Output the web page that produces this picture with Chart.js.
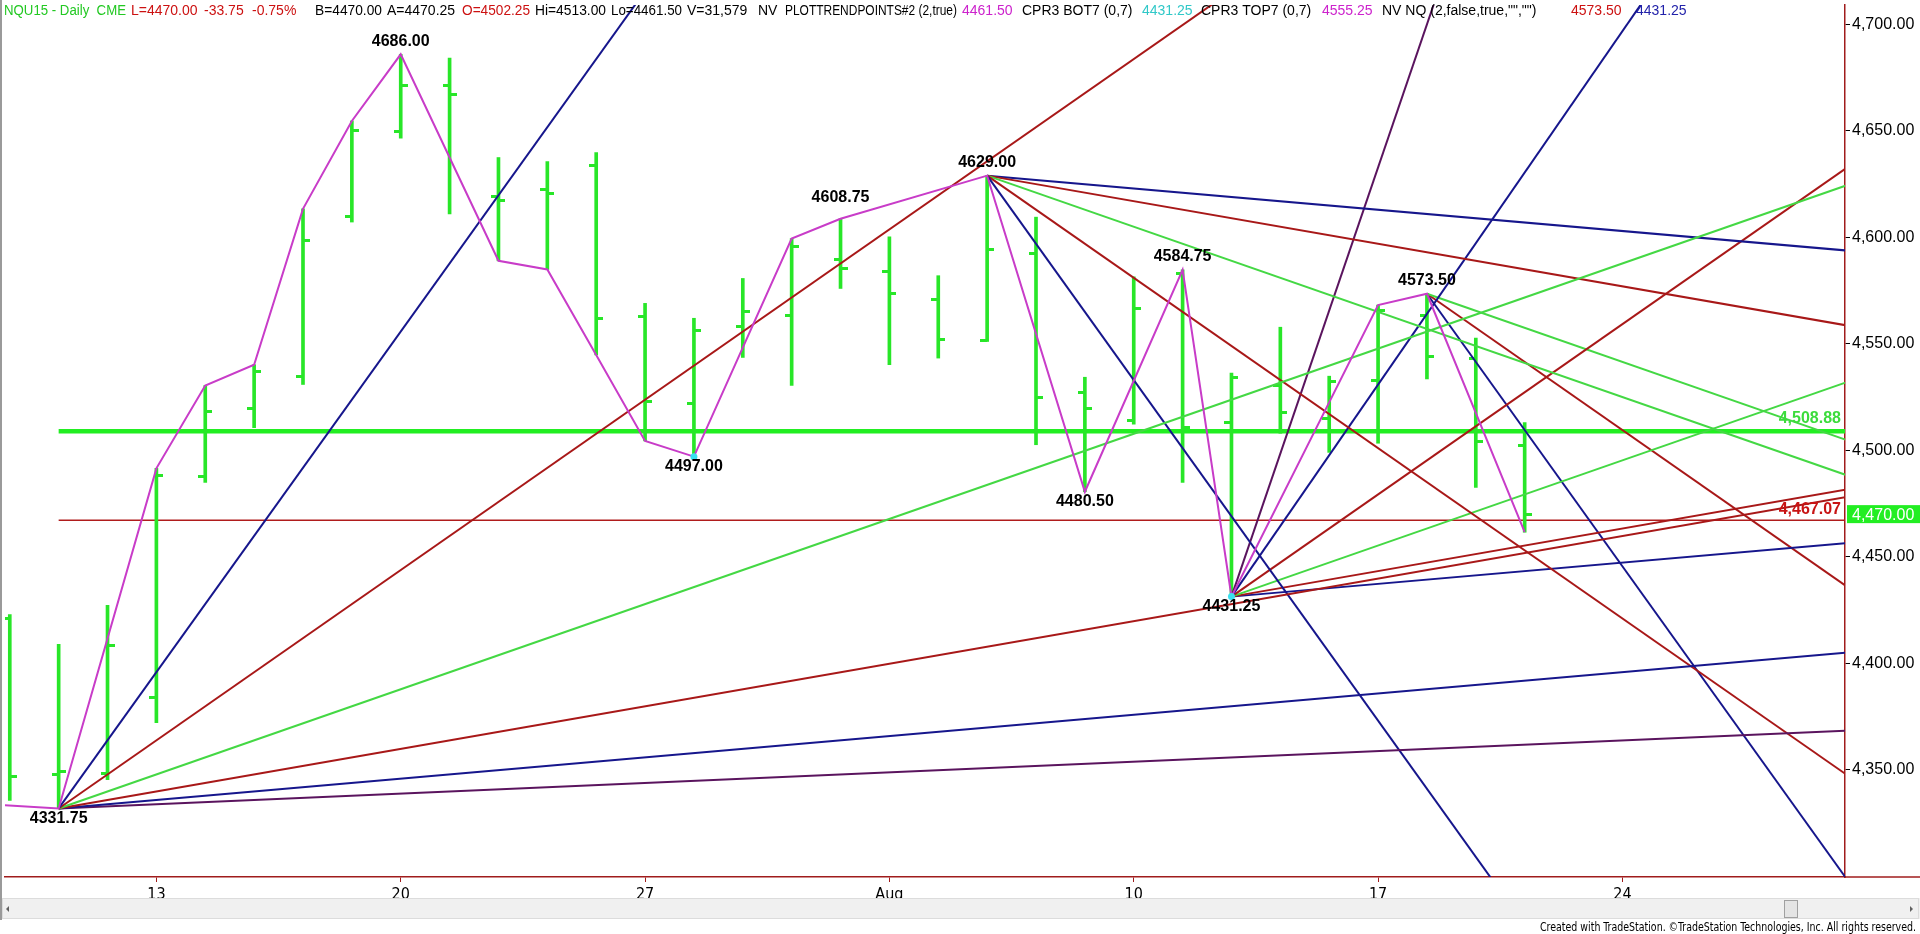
<!DOCTYPE html>
<html>
<head>
<meta charset="utf-8">
<title>NQU15 - Daily</title>
<script src="https://cdn.jsdelivr.net/npm/chart.js@4.4.0/dist/chart.umd.min.js"></script>
<style>
  html, body { margin: 0; padding: 0; background: #fff; overflow: hidden; }
  canvas { display: block; }
</style>
</head>
<body>
<canvas id="nqChart" width="1920" height="934"></canvas>
<script>
// trading day index, 0 = Mon Jul 13 2015
const barDays = [-3,-2,-1,0,1,2,3,4,5,6,7,8,9,10,11,12,13,14,15,16,17,18,19,20,21,22,23,24,25,26,27,28];
const opens  = [4421.0,4347.6,4348.0,4384.0,4487.7,4519.5,4534.8,4610.0,4649.5,4671.5,4619.0,4622.4,4633.6,4562.8,4521.8,4558.1,4563.3,4589.6,4583.8,4570.9,4551.6,4592.4,4527.3,4514.2,4583.0,4513.0,4530.4,4515.0,4532.9,4563.1,4542.9,4502.25];
const highs  = [4422.8,4408.8,4427.2,4491.5,4530.4,4540.2,4613.4,4654.7,4686.0,4684.2,4637.5,4635.6,4639.8,4569.0,4562.0,4580.7,4599.4,4608.75,4600.2,4582.0,4629.0,4609.5,4534.3,4581.5,4584.75,4536.3,4557.8,4534.8,4568.2,4573.5,4552.7,4513.0];
const lows   = [4335.5,4331.75,4345.3,4372.0,4484.9,4510.6,4530.9,4607.2,4646.6,4611.0,4589.0,4584.9,4544.8,4504.4,4497.0,4543.6,4530.4,4576.0,4540.2,4543.3,4551.1,4502.6,4480.5,4512.2,4484.9,4431.25,4508.0,4499.0,4503.3,4533.5,4482.6,4461.5];
const closes = [4346.7,4349.0,4408.3,4488.0,4518.0,4536.8,4598.3,4650.4,4671.5,4667.1,4617.3,4620.4,4561.9,4522.8,4556.3,4565.1,4595.5,4585.4,4573.4,4552.2,4594.2,4525.0,4519.5,4566.4,4510.6,4534.0,4517.6,4532.4,4565.6,4544.1,4503.9,4470.0];

// PLOTTRENDPOINTS swing line
const zigDays   = [-4,-2,0,1,2,3,4,5,7,8,9,10,11,13,14,17,19,21,22,25,26,28];
const zigPrices = [4334.5,4331.75,4491.5,4530.4,4540.2,4613.4,4654.7,4686.0,4589.0,4584.9,4544.8,4504.4,4497.0,4599.4,4608.75,4629.0,4480.5,4584.75,4431.25,4568.2,4573.5,4461.5];

const pivotDays   = [-2,5,11,14,17,19,21,22,26];
const pivotPrices = [4331.75,4686.00,4497.00,4608.75,4629.00,4480.50,4584.75,4431.25,4573.50];
const pivotSide   = ['low','high','low','high','high','low','high','low','high'];
const dotDays   = [11,22];
const dotPrices = [4497.00,4431.25];

// gann fans: origin + far end of each ray
const fanLowFrom = [-2, 4331.75];
const fanLowTo   = [[12,4779.75],[26,4779.75],[36,4635.75],[36,4483.75],[36,4407.75],[36,4369.75]];
const fanTopFrom = [17, 4629.00];
const fanTopTo   = [[36,4021.0],[36,4325.0],[36,4477.0],[36,4553.0],[36,4591.0]];
const fanLow2From = [22, 4431.25];
const fanLow2To   = [[27,4767.25],[33,4796.45],[36,4655.25],[36,4543.25],[36,4487.25],[36,4459.25]];
const fanTop2From = [26, 4573.50];
const fanTop2To   = [[36,4493.5],[36,4413.5],[36,4253.5]];

const levelPrices = [4508.88, 4467.07];
const levelStart = -2, levelEnd = 36;
const lastPrice = 4470.00;

const tickDays   = [0,5,10,15,20,25,30];
const tickLabels = ['13','20','27','Aug','10','17','24'];
const priceTicks = [4350,4400,4450,4500,4550,4600,4650,4700];

const C = {
  bar: '#28e628', magenta: '#c83cc8', navy: '#16168c', red: '#a81818',
  lime: '#44d844', purple: '#5a145e', cyan: '#38e0f0', axis: '#a01c1c'
};
const fanLowColors  = [C.navy, C.red, C.lime, C.red, C.navy, C.purple];
const fanTopColors  = [C.navy, C.red, C.lime, C.red, C.navy];
const fanLow2Colors = [C.purple, C.navy, C.red, C.lime, C.red, C.navy];
const fanTop2Colors = [C.lime, C.red, C.navy];

const FONT = '"Liberation Sans", Arial, sans-serif';
const NARROW = '"Liberation Sans Narrow", "DejaVu Sans Condensed", Arial, sans-serif';

function tickImg(side) {
  const c = document.createElement('canvas');
  c.width = 14; c.height = 3;
  const g = c.getContext('2d');
  g.fillStyle = C.bar;
  g.fillRect(side < 0 ? 0 : 7, 0, 7, 3);
  return c;
}

function seg(a, b, color, width, order) {
  return {
    type: 'line', data: [{x: a[0], y: a[1]}, {x: b[0], y: b[1]}],
    borderColor: color, borderWidth: width, pointRadius: 0, tension: 0, fill: false, order
  };
}

const datasets = [];
datasets.push({
  type: 'scatter', data: dotDays.map((d, i) => ({x: d, y: dotPrices[i]})),
  pointRadius: 3.5, backgroundColor: C.cyan, borderWidth: 0, order: 0
});
datasets.push({
  type: 'line', data: zigDays.map((d, i) => ({x: d, y: zigPrices[i]})),
  borderColor: C.magenta, borderWidth: 2, pointRadius: 0, tension: 0, fill: false, order: 1
});
fanLowTo.forEach((e, i) => datasets.push(seg(fanLowFrom, e, fanLowColors[i], 2, 2)));
fanTopTo.forEach((e, i) => datasets.push(seg(fanTopFrom, e, fanTopColors[i], 2, 2)));
fanLow2To.forEach((e, i) => datasets.push(seg(fanLow2From, e, fanLow2Colors[i], 2, 2)));
fanTop2To.forEach((e, i) => datasets.push(seg(fanTop2From, e, fanTop2Colors[i], 2, 2)));
datasets.push({
  type: 'scatter', data: barDays.map((d, i) => ({x: d, y: opens[i]})),
  pointStyle: tickImg(-1), pointRadius: 3, order: 3
});
datasets.push({
  type: 'scatter', data: barDays.map((d, i) => ({x: d, y: closes[i]})),
  pointStyle: tickImg(1), pointRadius: 3, order: 3
});
datasets.push({
  type: 'bar', data: barDays.map((d, i) => ({x: d, y: [lows[i], highs[i]]})),
  backgroundColor: C.bar, borderWidth: 0, barThickness: 3, order: 4
});
datasets.push(seg([levelStart, levelPrices[0]], [levelEnd, levelPrices[0]], '#22ee22', 4.5, 5));
datasets.push(seg([levelStart, levelPrices[1]], [levelEnd, levelPrices[1]], '#b01c1c', 1.5, 5));

const header = [
  ['NQU15 - Daily  CME', 4, '#22c822'], ['L=4470.00', 131, '#cc1111'], ['-33.75', 204, '#cc1111'],
  ['-0.75%', 252, '#cc1111'], ['B=4470.00', 315, '#000'], ['A=4470.25', 387, '#000'],
  ['O=4502.25', 462, '#cc1111'], ['Hi=4513.00', 535, '#000'], ['Lo=4461.50', 611, '#000'],
  ['V=31,579', 687, '#000'], ['NV', 758, '#000'], ['PLOTTRENDPOINTS#2 (2,true)', 785, '#000'],
  ['4461.50', 962, '#cc22cc'], ['CPR3 BOT7 (0,7)', 1022, '#000'], ['4431.25', 1142, '#30c8c8'],
  ['CPR3 TOP7 (0,7)', 1201, '#000'], ['4555.25', 1322, '#cc22cc'],
  ['NV NQ (2,false,true,"","")', 1382, '#000'], ['4573.50', 1571, '#cc1111'], ['4431.25', 1636, '#2222aa']
];

const overlay = {
  id: 'overlay',
  afterDatasetsDraw(chart) {
    const {ctx, scales: {x, y}} = chart;
    ctx.save();
    ctx.font = 'bold 16px ' + FONT;
    ctx.textAlign = 'center';
    ctx.textBaseline = 'middle';
    ctx.fillStyle = '#000';
    pivotDays.forEach((d, i) => {
      const px = x.getPixelForValue(d);
      const py = y.getPixelForValue(pivotPrices[i]);
      let dy = pivotSide[i] === 'high' ? -13 : 10;
      if (pivotPrices[i] === 4608.75) dy = -21;
      ctx.fillText(pivotPrices[i].toFixed(2), px, py + dy);
    });
    ctx.textAlign = 'right';
    ctx.fillStyle = '#3cdc3c';
    ctx.fillText('4,508.88', 1841, y.getPixelForValue(levelPrices[0]) - 13);
    ctx.fillStyle = '#c81414';
    ctx.fillText('4,467.07', 1841, y.getPixelForValue(levelPrices[1]) - 11);
    ctx.restore();
  },
  afterDraw(chart) {
    const {ctx, scales: {y}} = chart;
    ctx.save();
    // header line
    ctx.font = '14px ' + FONT;
    ctx.textBaseline = 'middle';
    ctx.textAlign = 'left';
    header.forEach((h, i) => {
      const next = i < header.length - 1 ? header[i + 1][1] : 1695;
      ctx.fillStyle = h[2];
      ctx.fillText(h[0], h[1], 11, next - h[1] - 5);
    });
    // last price box
    const py = y.getPixelForValue(lastPrice);
    ctx.fillStyle = '#22ee22';
    ctx.fillRect(1847, py - 9, 73, 18);
    ctx.fillStyle = '#fff';
    ctx.font = '16px ' + FONT;
    ctx.fillText('4,470.00', 1852, py + 1);
    // extend bottom axis line under price scale
    ctx.strokeStyle = C.axis;
    ctx.lineWidth = 1.5;
    ctx.beginPath();
    ctx.moveTo(1845, chart.chartArea.bottom);
    ctx.lineTo(1920, chart.chartArea.bottom);
    ctx.stroke();
    // left frame
    ctx.strokeStyle = '#9a9a9a';
    ctx.lineWidth = 2;
    ctx.beginPath();
    ctx.moveTo(1, 0);
    ctx.lineTo(1, 920);
    ctx.stroke();
    // scroll bar
    ctx.fillStyle = '#f0f0f0';
    ctx.fillRect(2, 898, 1918, 21);
    ctx.strokeStyle = '#dcdcdc';
    ctx.lineWidth = 1;
    ctx.strokeRect(2.5, 898.5, 1916, 20);
    ctx.fillStyle = '#606060';
    ctx.beginPath();
    ctx.moveTo(6, 909); ctx.lineTo(9, 906); ctx.lineTo(9, 912); ctx.closePath(); ctx.fill();
    ctx.beginPath();
    ctx.moveTo(1913, 909); ctx.lineTo(1910, 906); ctx.lineTo(1910, 912); ctx.closePath(); ctx.fill();
    ctx.fillStyle = '#e4e4e4';
    ctx.fillRect(1784, 900, 14, 18);
    ctx.strokeStyle = '#a0a0a0';
    ctx.strokeRect(1784.5, 900.5, 13, 17);
    // credits
    ctx.fillStyle = '#000';
    ctx.font = '12px ' + NARROW;
    ctx.textAlign = 'right';
    ctx.textBaseline = 'alphabetic';
    ctx.fillText('Created with TradeStation. \u00A9TradeStation Technologies, Inc. All rights reserved.', 1916, 931, 376);
    ctx.restore();
  }
};

new Chart(document.getElementById('nqChart'), {
  type: 'bar',
  data: { datasets },
  options: {
    responsive: false,
    animation: false,
    events: [],
    layout: { padding: 0 },
    plugins: { legend: { display: false }, tooltip: { enabled: false } },
    scales: {
      x: {
        type: 'linear', min: -3.098, max: 34.555, offset: false,
        afterBuildTicks: (scale) => { scale.ticks = tickDays.map(v => ({value: v})); },
        afterFit: (scale) => { scale.height = 57; scale.paddingLeft = 0; scale.paddingRight = 0; },
        ticks: {
          autoSkip: false, maxRotation: 0, padding: 3, color: '#000',
          font: { family: NARROW, size: 16 },
          callback: (v) => tickLabels[tickDays.indexOf(v)]
        },
        grid: { drawOnChartArea: false, offset: false, tickLength: 5, color: C.axis },
        border: { color: C.axis, width: 1.5 }
      },
      y: {
        type: 'linear', position: 'right', min: 4299.55, max: 4709.15,
        afterBuildTicks: (scale) => { scale.ticks = priceTicks.map(v => ({value: v})); },
        afterFit: (scale) => { scale.width = 75; scale.paddingTop = 0; scale.paddingBottom = 0; },
        ticks: {
          padding: 2, color: '#000',
          font: { family: FONT, size: 16 },
          callback: (v) => v.toLocaleString('en-US', {minimumFractionDigits: 2, maximumFractionDigits: 2})
        },
        grid: { drawOnChartArea: false, tickLength: 5, color: '#000' },
        border: { color: C.axis, width: 1.5 }
      }
    }
  },
  plugins: [overlay]
});
</script>
</body>
</html>
